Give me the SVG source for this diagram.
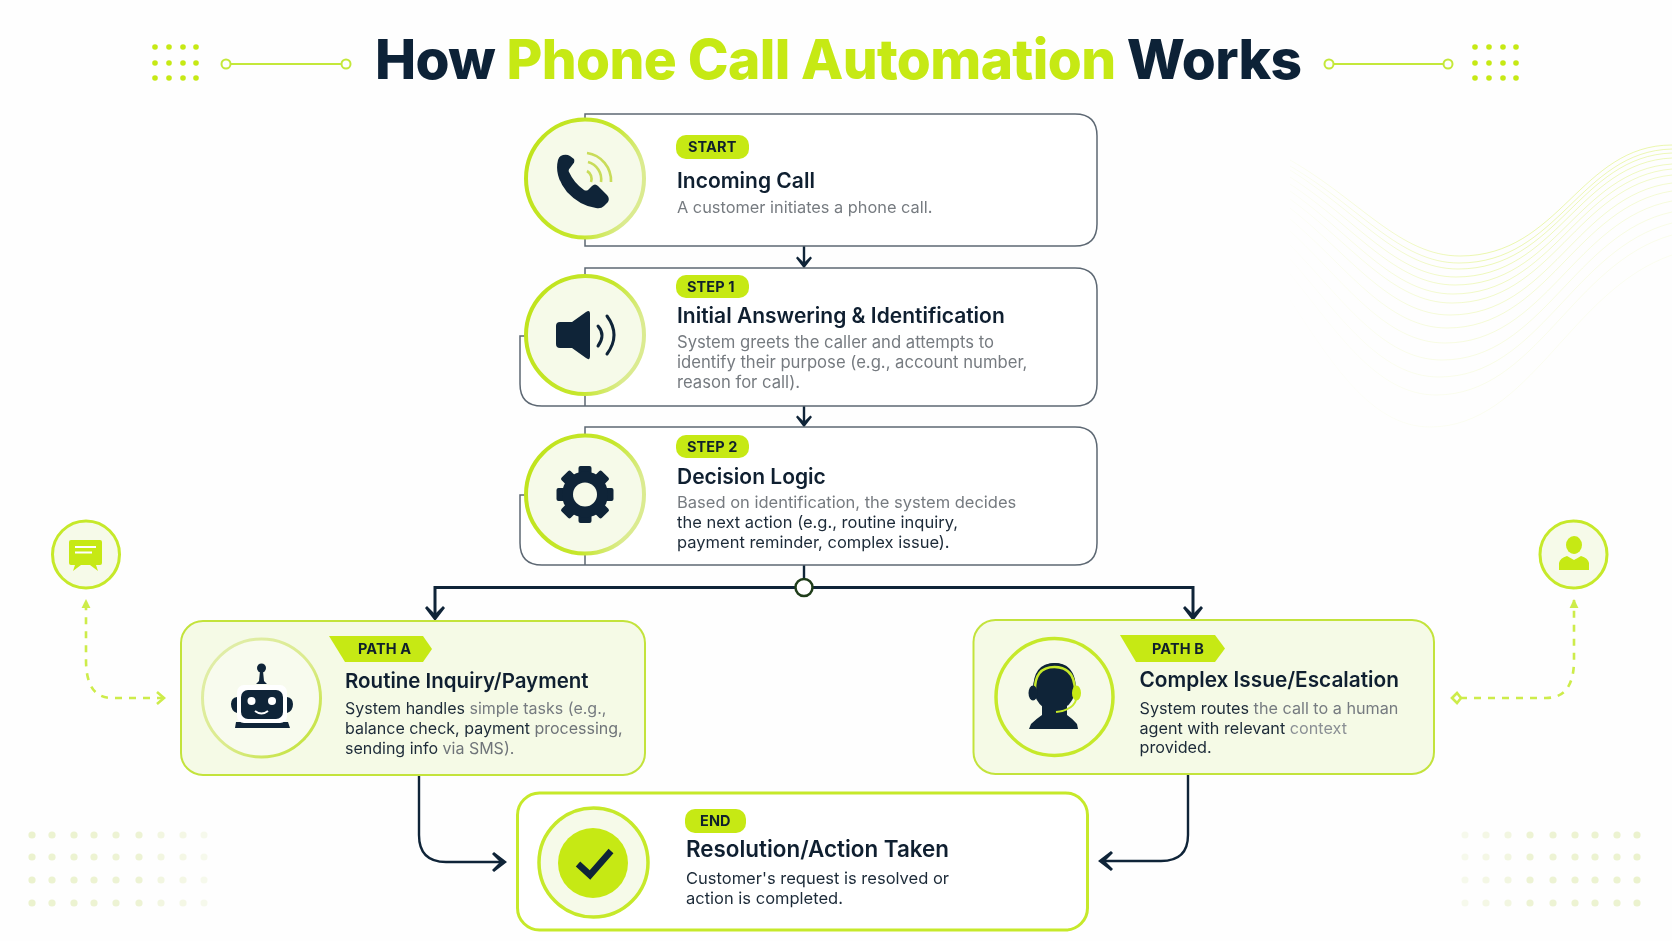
<svg xmlns="http://www.w3.org/2000/svg" xmlns:xlink="http://www.w3.org/1999/xlink" width="1672" height="941" viewBox="0 0 1672 941">
<style>
text{font-family:Inter,"Liberation Sans",sans-serif}
.hd{font-size:55px;font-weight:800;fill:#0d2237}
.lime{fill:#c6e914}
.pill{font-size:14.500px;font-weight:700;fill:#10202c;letter-spacing:.1px}
.t{font-size:21px;font-weight:600;fill:#0f1f30}
.ta{font-size:20.500px}
.te{font-size:22.400px}
.d{font-size:16px;fill:#767b80}
.dl{font-size:16.500px}
.dm{font-size:16.650px}
.k{fill:#1c2a38}
.card{fill:#fff;stroke:#5d6873;stroke-width:1.500}
.pcard{fill:#f5fae6;stroke:#c3e33c;stroke-width:2}
.ecard{fill:#fff;stroke:#c6e92a;stroke-width:3}
.deco{fill:none;stroke:#c4e83a;stroke-width:2}
.ring{fill:#f6fae9;stroke:url(#ringG);stroke-width:4}
.lp{fill:#c6e914}
.ic{fill:#0f2438}
.flow{fill:none;stroke:#0f2438;stroke-width:3}
.flow2{fill:none;stroke:#0f2438;stroke-width:2.400}
.dash{fill:none;stroke:#cdec4a;stroke-width:2.600;stroke-dasharray:7 7}
.wave path{fill:none;stroke:url(#waveG);stroke-width:1}
.dd{fill:#dbe8a6;opacity:.55}
</style>
<defs>
<linearGradient id="ringG" x1="0" y1="0" x2="1" y2="0.3"><stop offset="0" stop-color="#bfe31a"/><stop offset="0.7" stop-color="#c6e72c"/><stop offset="1" stop-color="#dbeb90"/></linearGradient>
<linearGradient id="ringA" x1="0" y1="0" x2="1" y2="1"><stop offset="0" stop-color="#e2eeb0"/><stop offset="0.55" stop-color="#dbeb8c"/><stop offset="1" stop-color="#bfe12a"/></linearGradient>
<linearGradient id="waveG" gradientUnits="userSpaceOnUse" x1="1270" y1="0" x2="1480" y2="0"><stop offset="0" stop-color="#c6e914" stop-opacity=".05"/><stop offset="1" stop-color="#c6e914" stop-opacity="1"/></linearGradient>
<marker id="arL" markerUnits="userSpaceOnUse" viewBox="0 0 15 20" markerWidth="15" markerHeight="20" refX="12" refY="10" orient="auto"><path d="M0 2 L2 0 L15 10 L2 20 L0 18 L7 11 V9Z" fill="#0f2438"/></marker>
<marker id="arS" markerUnits="userSpaceOnUse" viewBox="0 0 15 20" markerWidth="12" markerHeight="17" refX="12" refY="10" orient="auto"><path d="M0 2 L2 0 L15 10 L2 20 L0 18 L7 11 V9Z" fill="#0f2438"/></marker>
<marker id="arT" markerUnits="userSpaceOnUse" viewBox="0 0 10 10" markerWidth="9" markerHeight="10" refX="9" refY="5" orient="auto"><path d="M0 0 L10 5 L0 10Z" fill="#cdec4a"/></marker>
<g id="tdots"><circle cx="0" cy="0" r="2.800"/><circle cx="14" cy="0" r="2.800"/><circle cx="28" cy="0" r="2.800"/><circle cx="41" cy="0" r="2.800"/></g>
<g id="brow"><circle cx="32" r="3.600" opacity="1"/><circle cx="52" r="3.600" opacity=".95"/><circle cx="74" r="3.600" opacity=".95"/><circle cx="94" r="3.600" opacity=".9"/><circle cx="116" r="3.600" opacity=".85"/><circle cx="139" r="3.600" opacity=".85"/><circle cx="161" r="3.600" opacity=".6"/><circle cx="183" r="3.600" opacity=".5"/><circle cx="204" r="3.600" opacity=".35"/></g>
</defs>
<rect width="1672" height="941" fill="#fefefe"/>
<g id="background">
<g class="wave">
<path opacity=".34" d="M1290 160C1360 200 1400 256 1460 256C1560 256 1580 145 1672 145"/>
<path opacity=".32" d="M1290 166C1359 206 1399 263 1459 263C1559 263 1580 151 1672 149"/>
<path opacity=".3" d="M1290 170C1358 212 1398 269 1458 269C1558 269 1579 156 1672 153"/>
<path opacity=".28" d="M1290 177C1356 219 1396 277 1456 277C1556 277 1579 162 1672 158"/>
<path opacity=".26" d="M1290 184C1355 227 1395 285 1455 285C1555 285 1578 170 1672 164"/>
<path opacity=".24" d="M1290 191C1353 235 1393 294 1453 294C1553 294 1578 177 1672 169"/>
<path opacity=".22" d="M1290 199C1352 244 1392 303 1452 303C1552 303 1577 185 1672 175"/>
<path opacity=".2" d="M1290 208C1350 255 1390 315 1450 315C1550 315 1577 195 1672 183"/>
<path opacity=".17" d="M1290 219C1347 267 1387 328 1447 328C1547 328 1576 206 1672 191"/>
<path opacity=".14" d="M1290 231C1345 282 1385 343 1445 343C1545 343 1575 219 1672 201"/>
<path opacity=".12" d="M1290 245C1342 298 1382 360 1442 360C1542 360 1574 233 1672 212"/>
<path opacity=".1" d="M1290 259C1339 314 1379 377 1439 377C1539 377 1573 248 1672 223"/>
<path opacity=".08" d="M1290 274C1336 330 1376 395 1436 395C1536 395 1572 263 1672 235"/>
<path opacity=".06" d="M1290 300C1330 360 1370 427 1430 427C1530 427 1570 290 1672 255"/>
</g>
<g class="dd">
<use href="#brow" y="835"/><use href="#brow" y="857"/><use href="#brow" y="880"/><use href="#brow" y="903"/>
<g transform="translate(1669 0) scale(-1 1)"><use href="#brow" y="835"/><use href="#brow" y="857"/><use href="#brow" y="880"/><use href="#brow" y="903"/></g>
</g>
</g>
<g id="title">
<text class="hd" x="375" y="79" textLength="927">How <tspan class="lime">Phone Call Automation</tspan> Works</text>
<g class="lp"><use href="#tdots" x="155" y="47"/><use href="#tdots" x="155" y="63"/><use href="#tdots" x="155" y="78"/><use href="#tdots" x="1475" y="47"/><use href="#tdots" x="1475" y="63"/><use href="#tdots" x="1475" y="78"/></g>
<path class="deco" d="M231 64H341M1334 64H1443"/>
<circle class="deco" cx="226" cy="64" r="4.500"/><circle class="deco" cx="346" cy="64" r="4.500"/><circle class="deco" cx="1329" cy="64" r="4.500"/><circle class="deco" cx="1448" cy="64" r="4.500"/>
</g>
<g id="connectors">
<path class="flow2" d="M804 246V266" marker-end="url(#arS)"/>
<path class="flow2" d="M804 406V425" marker-end="url(#arS)"/>
<path class="flow2" d="M804 565V578"/>
<path class="flow" d="M796 587.500H435V618" marker-end="url(#arL)"/>
<path class="flow" d="M813 587.500H1193V618" marker-end="url(#arL)"/>
<circle cx="804" cy="587.500" r="8.500" fill="#fff" stroke="#1f3d1a" stroke-width="2.500"/>
<path class="flow2" d="M419 775V835Q419 862 446 862H504" marker-end="url(#arL)"/>
<path class="flow2" d="M1188 774V835Q1188 861 1161 861H1101" marker-end="url(#arL)"/>
<path class="dash" d="M164 698H112Q86 698 86 660V600" marker-end="url(#arT)"/>
<path class="dash" d="M1460 698H1546Q1574 698 1574 660V600" marker-end="url(#arT)"/>
<path d="M157 692L164 698L157 704" fill="none" stroke="#cdec4a" stroke-width="2.600"/>
<path d="M1452 698L1457 693L1461 698L1457 703Z" fill="none" stroke="#cdec4a" stroke-width="2.600"/>
</g>
<g id="node-start">
<path class="card" d="M585 118V114H1075Q1097 114 1097 136V224Q1097 246 1075 246H585V239"/>
<circle class="ring" cx="585" cy="178.500" r="59"/>
<path class="ic" d="M563 155Q559 156 558 160Q554 176 567 192Q580 206 596 208Q601 209 604 206L608 202Q610 198 607 195L598 186Q595 183 592 186L588 190Q586 191 584 190Q574 183 569 172Q568 170 570 168L573 164Q575 162 574 159L570 156Q567 154 563 155Z"/>
<g fill="none" stroke="#c9dc5a" stroke-width="2.600"><path d="M587 171A9 9 0 0 1 591 182"/><path d="M588 162A18 18 0 0 1 601 182"/><path d="M587 153A28 28 0 0 1 611 182"/></g>
<rect class="lp" x="676" y="135" width="73" height="24" rx="10"/>
<text class="pill" x="688" y="152">START</text>
<text class="t" x="677" y="188">Incoming Call</text>
<text class="d" x="677" y="213" style="font-size:16.350px">A customer initiates a phone call.</text>
</g>
<g id="node-step1">
<path class="card" d="M585 275V268H1075Q1097 268 1097 290V384Q1097 406 1075 406H542Q520 406 520 384V336H525M585 395V406"/>
<circle class="ring" cx="585" cy="335" r="59"/>
<path class="ic" d="M556 326Q556 322 560 322H572L586 312Q590 309 590 314V356Q590 361 586 358L572 348H560Q556 348 556 344Z"/>
<g fill="none" stroke="#0f2438" stroke-width="3" stroke-linecap="round"><path d="M598 326Q606 335 598 346"/><path d="M607 316Q621 335 607 354"/></g>
<rect class="lp" x="676" y="275" width="73" height="23" rx="10"/>
<text class="pill" x="687" y="292">STEP 1</text>
<text class="t" x="677" y="323">Initial Answering &amp; Identification</text>
<text class="d dm" x="677" y="347.500">System greets the caller and attempts to</text>
<text class="d dm" x="677" y="367.500">identify their purpose (e.g., account number,</text>
<text class="d dm" x="677" y="387.500">reason for call).</text>
</g>
<g id="node-step2">
<path class="card" d="M585 434V427H1075Q1097 427 1097 449V543Q1097 565 1075 565H542Q520 565 520 543V495H525M585 555V565"/>
<circle class="ring" cx="585" cy="494.500" r="59"/>
<g class="ic"><rect x="578.500" y="466" width="13" height="57" rx="2"/><rect x="578.500" y="466" width="13" height="57" rx="2" transform="rotate(45 585 494.500)"/><rect x="578.500" y="466" width="13" height="57" rx="2" transform="rotate(90 585 494.500)"/><rect x="578.500" y="466" width="13" height="57" rx="2" transform="rotate(135 585 494.500)"/><circle cx="585" cy="494.500" r="23"/></g>
<circle cx="585" cy="494.500" r="12" fill="#f6fae9"/>
<rect class="lp" x="676" y="435" width="73" height="23" rx="10"/>
<text class="pill" x="687" y="452">STEP 2</text>
<text class="t" x="677" y="483.500">Decision Logic</text>
<text class="d dl" x="677" y="507.500">Based on identification, the system decides</text>
<text class="d dl k" x="677" y="527.500">the next action (e.g., routine inquiry,</text>
<text class="d dl k" x="677" y="547.500">payment reminder, complex issue).</text>
</g>
<g id="node-path-a">
<rect class="pcard" x="181" y="621" width="464" height="154" rx="22"/>
<circle cx="261.500" cy="698" r="59" fill="#f8fbee" stroke="url(#ringA)" stroke-width="3"/>
<circle class="ic" cx="261.500" cy="668" r="4.500"/><path class="ic" d="M260 671H263L264 681L267 684H256L259 681Z"/>
<path class="ic" d="M231 704Q231 698 237 697V713Q231 711 231 704ZM293 704Q293 698 287 697V713Q293 711 293 704ZM236 722H288L290 728H235Z"/>
<rect x="237" y="685" width="50" height="38" rx="7" fill="#fff"/>
<rect class="ic" x="241" y="690" width="42" height="29" rx="7"/>
<circle cx="251.500" cy="701" r="4" fill="#fff"/><circle cx="272" cy="701" r="4" fill="#fff"/>
<path d="M255 711Q261.500 716 268 711" fill="none" stroke="#fff" stroke-width="2"/>
<path class="lp" d="M329 636H423L432 649L423 662H345Z"/>
<text class="pill" x="358" y="654">PATH A</text>
<text class="t ta" x="345" y="688">Routine Inquiry/Payment</text>
<text class="d" x="345" y="714"><tspan class="k">System handles</tspan> simple tasks (e.g.,</text>
<text class="d k" x="345" y="734">balance check, payment <tspan fill="#6f7479">processing,</tspan></text>
<text class="d k" x="345" y="754">sending info <tspan fill="#6f7479">via SMS).</tspan></text>
</g>
<g id="node-path-b">
<rect class="pcard" x="973.500" y="620" width="460.500" height="154" rx="22"/>
<circle cx="1054.500" cy="697" r="58.500" fill="#f6fae8" stroke="#c6e92a" stroke-width="3.500"/>
<path class="ic" d="M1033 693Q1032 663 1054.500 663Q1077 663 1076 693H1072L1035 695Z"/>
<ellipse class="ic" cx="1054.500" cy="687" rx="21" ry="24"/>
<path class="ic" d="M1042 705H1067V715Q1073 719 1077 724L1078 729H1029L1031 724Q1036 719 1042 715Z"/>
<path d="M1035 692Q1034 667 1054.500 667Q1075 667 1075 692" fill="none" stroke="#c6e92a" stroke-width="2.500"/>
<ellipse class="ic" cx="1033" cy="693" rx="4.500" ry="7.500"/>
<ellipse class="lp" cx="1076.500" cy="693" rx="4.500" ry="7.500"/>
<path d="M1076 700Q1073 710 1056 712" fill="none" stroke="#c6e92a" stroke-width="2"/>
<path class="lp" d="M1120 635H1215L1225 648.500L1215 662H1136Z"/>
<text class="pill" x="1152" y="654">PATH B</text>
<text class="t ta" x="1139.500" y="687" style="font-size:20.800px">Complex Issue/Escalation</text>
<text class="d" x="1139.500" y="714" style="font-size:16.200px"><tspan class="k">System routes</tspan> the call to a human</text>
<text class="d k" x="1139.500" y="734" style="font-size:16.200px">agent with relevant <tspan fill="#8a8f94">context</tspan></text>
<text class="d k" x="1139.500" y="753" style="font-size:16.200px">provided.</text>
</g>
<g id="node-end">
<rect class="ecard" x="517.500" y="793" width="570" height="137" rx="22"/>
<circle cx="593.500" cy="862.500" r="54.500" fill="#f6fae9" stroke="#c6e92a" stroke-width="3.500"/>
<circle class="lp" cx="593" cy="863" r="35"/>
<path d="M578 864L590 875L611 851" fill="none" stroke="#0f2438" stroke-width="6.500"/>
<rect class="lp" x="685" y="809" width="61" height="24" rx="10"/>
<text class="pill" x="700" y="826">END</text>
<text class="t te" x="686" y="857">Resolution/Action Taken</text>
<text class="d dl k" x="686" y="884">Customer's request is resolved or</text>
<text class="d dl k" x="686" y="904">action is completed.</text>
</g>
<g id="node-chat">
<circle cx="86" cy="554.500" r="33.500" fill="#f6fae9" stroke="#c6e92a" stroke-width="3"/>
<path class="lp" d="M71 540H100Q102 540 102 542V563Q102 565 100 565H96L98 571L90 565H81L73 571L75 565H71Q69 565 69 563V542Q69 540 71 540Z"/>
<path d="M75 547H96M75 552.500H92" stroke="#fff" stroke-width="2.200" fill="none"/>
</g>
<g id="node-person">
<circle cx="1573.500" cy="554.500" r="33.500" fill="#f6fae9" stroke="#c6e92a" stroke-width="3"/>
<ellipse class="lp" cx="1574" cy="545" rx="8" ry="9"/>
<path class="lp" d="M1559 570V563Q1560 558 1567 556L1574 560L1581 556Q1588 558 1589 563V570Z"/>
</g>
</svg>
